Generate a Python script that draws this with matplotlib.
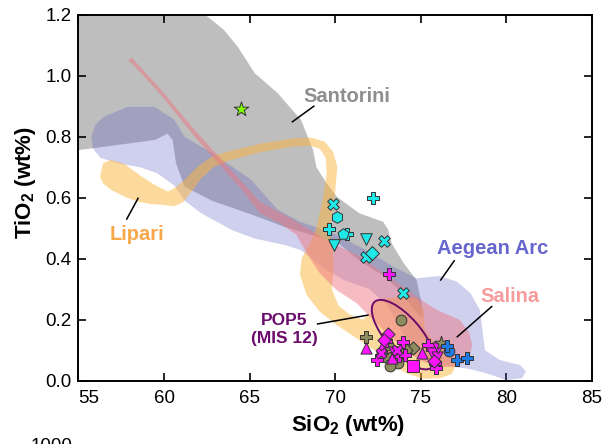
import matplotlib
matplotlib.use('Agg')
import matplotlib.pyplot as plt
from matplotlib.patches import Polygon, Ellipse
from matplotlib import transforms

plt.rcParams['font.family'] = ['Liberation Sans', 'DejaVu Sans']
plt.rcParams['mathtext.fontset'] = 'custom'
plt.rcParams['mathtext.rm'] = 'Liberation Sans'
plt.rcParams['mathtext.bf'] = 'Liberation Sans:bold'

# compositional fields, outline vertices (SiO2, TiO2)
santorini_sio2 = [55.0, 62.4, 63.5, 64.3, 65.3, 66.65, 68.0, 68.7, 68.9, 69.5, 70.1, 71.4,
                  72.8, 73.1, 73.3, 74.0, 74.75, 75.05, 75.15, 74.9, 74.3, 73.6, 72.8, 71.5,
                  70.2, 68.5, 67.0, 65.1, 62.8, 61.2, 60.7, 60.5, 60.2, 59.5, 58.9, 56.9, 55.0]
santorini_tio2 = [1.2, 1.2, 1.15, 1.095, 1.008, 0.942, 0.855, 0.757, 0.70, 0.647, 0.603, 0.549,
                  0.521, 0.494, 0.45, 0.385, 0.33, 0.254, 0.21, 0.215, 0.255, 0.305, 0.345, 0.39,
                  0.45, 0.48, 0.505, 0.545, 0.59, 0.636, 0.713, 0.789, 0.81, 0.79, 0.785, 0.77, 0.756]

aegean_sio2 = [55.75, 56.0, 56.5, 57.9, 59.45, 60.6, 61.2, 63.15, 65.1, 66.65, 67.95, 69.9,
               71.8, 73.4, 74.75, 76.1, 77.1, 77.9, 78.45, 78.6, 78.75, 79.6, 80.8, 81.15,
               80.9, 80.0, 78.85, 77.7, 76.1, 75.0, 74.0, 73.0, 72.0, 70.5, 69.3, 68.0,
               67.1, 65.3, 64.0, 62.2, 61.2, 60.6, 59.6, 58.6, 57.5, 56.3, 55.85]
aegean_tio2 = [0.80, 0.84, 0.866, 0.898, 0.898, 0.855, 0.80, 0.734, 0.658, 0.56, 0.521, 0.483,
               0.428, 0.374, 0.336, 0.343, 0.325, 0.287, 0.232, 0.166, 0.10, 0.068, 0.051, 0.03,
               0.008, 0.002, 0.024, 0.04, 0.05, 0.07, 0.15, 0.25, 0.30, 0.33, 0.37, 0.428,
               0.444, 0.466, 0.493, 0.548, 0.59, 0.64, 0.68, 0.70, 0.71, 0.73, 0.76]

salina_sio2 = [57.9, 58.1, 59.84, 61.79, 63.73, 65.6, 67.55, 69.5, 71.44, 73.39, 74.75, 75.92,
               77.28, 77.8, 78.0, 77.87, 77.4, 76.9, 76.0, 75.0, 74.0, 73.0, 72.03, 71.25,
               70.08, 69.1, 68.33, 67.74, 66.77, 65.6, 64.5, 63.73, 61.79, 59.84, 58.3]
salina_tio2 = [1.05, 1.06, 0.953, 0.822, 0.702, 0.587, 0.527, 0.461, 0.407, 0.33, 0.275, 0.232,
               0.199, 0.16, 0.12, 0.08, 0.055, 0.046, 0.045, 0.065, 0.105, 0.155, 0.21, 0.254,
               0.297, 0.352, 0.418, 0.478, 0.516, 0.549, 0.63, 0.677, 0.80, 0.935, 1.03]

lipari_sio2 = [56.26, 56.43, 56.92, 57.7, 58.57, 59.45, 60.23, 60.7, 61.2, 61.98, 62.76, 63.73,
               65.68, 67.63, 68.6, 69.38, 69.87, 70.12, 70.0, 69.85, 69.65, 69.85, 69.9, 69.8,
               70.2, 70.9, 71.6, 72.15, 72.22, 73.0, 73.78, 74.75, 75.14, 75.24, 75.92, 76.8,
               77.05, 76.8, 76.12, 75.14, 74.17, 73.2, 72.42, 71.25, 70.08, 69.1, 68.33, 67.94,
               68.04, 68.52, 68.9, 69.1, 69.35, 69.5, 69.45, 69.1, 68.6, 67.6, 65.7, 63.8,
               62.9, 62.2, 61.6, 61.1, 60.6, 60.03, 59.25, 58.48, 57.7, 56.92, 56.43]
lipari_tio2 = [0.668, 0.713, 0.724, 0.71, 0.674, 0.642, 0.62, 0.635, 0.658, 0.702, 0.734, 0.751,
               0.778, 0.795, 0.797, 0.784, 0.751, 0.702, 0.62, 0.56, 0.49, 0.43, 0.36, 0.30,
               0.245, 0.215, 0.2, 0.225, 0.259, 0.27, 0.275, 0.27, 0.237, 0.166, 0.117, 0.084,
               0.051, 0.022, 0.008, 0.006, 0.024, 0.057, 0.095, 0.139, 0.183, 0.226, 0.281, 0.347,
               0.401, 0.45, 0.50, 0.55, 0.62, 0.68, 0.73, 0.76, 0.77, 0.768, 0.75, 0.722,
               0.70, 0.665, 0.62, 0.585, 0.572, 0.576, 0.579, 0.587, 0.603, 0.625, 0.647]

# POP5 (MIS 12) field: centre in data units, axes in inches on the page
pop5_center = (73.97, 0.151)
pop5_width = 0.87
pop5_height = 0.35
pop5_angle = -49

# glass shard analyses
cyan_x_sio2, cyan_x_tio2 = [69.88, 72.84, 71.79, 73.93], [0.579, 0.458, 0.407, 0.287]
cyan_hex_sio2, cyan_hex_tio2 = [70.12], [0.538]
cyan_plus_sio2, cyan_plus_tio2 = [72.22, 69.65, 70.70], [0.598, 0.497, 0.480]
cyan_pent_sio2, cyan_pent_tio2 = [70.43], [0.481]
cyan_tri_sio2, cyan_tri_tio2 = [69.92, 71.79], [0.444, 0.465]
cyan_dia_sio2, cyan_dia_tio2 = [72.12], [0.418]
green_star_sio2, green_star_tio2 = [64.47], [0.892]

mag_plus_sio2 = [73.16, 73.97, 72.45, 75.43, 75.82, 73.75, 72.95, 74.05, 75.9]
mag_plus_tio2 = [0.349, 0.126, 0.068, 0.117, 0.057, 0.08, 0.13, 0.085, 0.04]
mag_up_sio2, mag_up_tio2 = [71.78, 75.05, 72.75, 73.3], [0.108, 0.09, 0.11, 0.075]
mag_down_sio2, mag_down_tio2 = [75.63, 75.92, 76.02, 73.45], [0.09, 0.079, 0.106, 0.095]
mag_dia_sio2, mag_dia_tio2 = [73.1, 75.75, 72.85], [0.152, 0.065, 0.135]
mag_sq_sio2, mag_sq_tio2 = [74.56], [0.048]
mag_x_sio2, mag_x_tio2 = [73.6, 72.7], [0.1, 0.09]

olive_circ_sio2 = [73.84, 73.1, 73.68, 73.2, 72.75]
olive_circ_tio2 = [0.199, 0.117, 0.057, 0.047, 0.09]
olive_plus_sio2, olive_plus_tio2 = [71.78], [0.144]
olive_dia_sio2, olive_dia_tio2 = [74.56, 74.15], [0.108, 0.1]
olive_x_sio2, olive_x_tio2 = [73.0], [0.079]
olive_star_sio2, olive_star_tio2 = [76.17], [0.123]

blue_plus_sio2, blue_plus_tio2 = [77.09, 77.67, 76.55], [0.068, 0.073, 0.115]
blue_circ_sio2, blue_circ_tio2 = [76.62], [0.098]


fig = plt.figure(figsize=(6.06, 4.44), dpi=100)
ax = fig.add_axes([0.1295, 0.1426, 0.8474, 0.8243])

# fields
ax.add_patch(Polygon(list(zip(santorini_sio2, santorini_tio2)), closed=True,
                     fc='#bebebe', ec='none', zorder=1))
ax.add_patch(Polygon(list(zip(aegean_sio2, aegean_tio2)), closed=True,
                     fc='#5656c4', ec='none', alpha=0.28, zorder=2))
ax.add_patch(Polygon(list(zip(lipari_sio2, lipari_tio2)), closed=True,
                     fc='#fbb43c', ec='none', alpha=0.5, zorder=3))
ax.add_patch(Polygon(list(zip(salina_sio2, salina_tio2)), closed=True,
                     fc='#ee7480', ec='none', alpha=0.48, zorder=3))

trans = fig.dpi_scale_trans + transforms.ScaledTranslation(pop5_center[0], pop5_center[1], ax.transData)
ax.add_patch(Ellipse((0, 0), pop5_width, pop5_height, angle=pop5_angle, transform=trans,
                     fc='none', ec='#6b0b6b', lw=1.4, zorder=4))

# points
ec = '#333333'
def pts(x, y, c, m, s=62):
    ax.scatter(x, y, c=c, marker=m, s=s, edgecolors=ec, linewidths=0.7, zorder=5)

cyan = '#1fe8e8'
mag = '#ff14ff'
olive = '#8c8c5e'
blue = '#1e7be6'

pts(cyan_x_sio2, cyan_x_tio2, cyan, 'X', 70)
pts(cyan_hex_sio2, cyan_hex_tio2, cyan, 'h', 70)
pts(cyan_plus_sio2, cyan_plus_tio2, cyan, 'P', 70)
pts(cyan_pent_sio2, cyan_pent_tio2, cyan, 'p', 70)
pts(cyan_tri_sio2, cyan_tri_tio2, cyan, 'v', 70)
pts(cyan_dia_sio2, cyan_dia_tio2, cyan, 'D', 50)
pts(green_star_sio2, green_star_tio2, '#7fff00', '*', 120)

pts(olive_circ_sio2, olive_circ_tio2, olive, 'o', 60)
pts(olive_plus_sio2, olive_plus_tio2, olive, 'P', 70)
pts(olive_dia_sio2, olive_dia_tio2, olive, 'D', 45)
pts(olive_x_sio2, olive_x_tio2, olive, 'X', 60)
pts(mag_plus_sio2, mag_plus_tio2, mag, 'P', 70)
pts(mag_up_sio2, mag_up_tio2, mag, '^', 65)
pts(mag_down_sio2, mag_down_tio2, mag, 'v', 65)
pts(mag_dia_sio2, mag_dia_tio2, mag, 'D', 45)
pts(mag_sq_sio2, mag_sq_tio2, mag, 's', 65)
pts(mag_x_sio2, mag_x_tio2, mag, 'X', 60)
pts(olive_star_sio2, olive_star_tio2, olive, '*', 110)
pts(blue_circ_sio2, blue_circ_tio2, blue, 'o', 60)
pts(blue_plus_sio2, blue_plus_tio2, blue, 'P', 70)

# field labels and leader lines
ax.text(70.68, 0.932, 'Santorini', color='#8e8e8e', fontsize=14.5, fontweight='bold',
        ha='center', va='center', zorder=6)
ax.plot([67.5, 68.75], [0.849, 0.90], color='k', lw=1.1, zorder=6)
ax.text(58.42, 0.479, 'Lipari', color='#f8a84a', fontsize=14.5, fontweight='bold',
        ha='center', va='center', zorder=6)
ax.plot([57.82, 58.48], [0.53, 0.598], color='k', lw=1.1, zorder=6)
ax.text(79.21, 0.434, 'Aegean Arc', color='#6666cc', fontsize=14.5, fontweight='bold',
        ha='center', va='center', zorder=6)
ax.plot([76.16, 76.95], [0.33, 0.393], color='k', lw=1.1, zorder=6)
ax.text(80.2, 0.275, 'Salina', color='#f79c9c', fontsize=14.5, fontweight='bold',
        ha='center', va='center', zorder=6)
ax.plot([77.13, 79.14], [0.144, 0.243], color='k', lw=1.1, zorder=6)
ax.text(67.04, 0.168, 'POP5\n(MIS 12)', color='#6b0b6b', fontsize=12.5, fontweight='bold',
        ha='center', va='center', linespacing=1.25, zorder=6)
ax.plot([68.97, 71.91], [0.186, 0.215], color='k', lw=1.1, zorder=6)

ax.set_xlim(55, 85)
ax.set_ylim(0, 1.2)
ax.set_xticks([55, 60, 65, 70, 75, 80, 85])
ax.set_yticks([0.0, 0.2, 0.4, 0.6, 0.8, 1.0, 1.2])
ax.set_yticklabels(['0.0', '0.2', '0.4', '0.6', '0.8', '1.0', '1.2'])
ax.tick_params(direction='in', top=True, right=True, length=6, width=1.2,
               labelsize=13.5, colors='k')
ax.tick_params(axis='x', pad=6.5)
ax.tick_params(axis='y', pad=5)
ax.get_xticklabels()[0].set_ha('left')
for sp in ax.spines.values():
    sp.set_linewidth(1.4)

fig.text(348 / 606, 1 - 425 / 444, 'SiO$_\\mathbf{2}$ (wt%)', fontsize=16, fontweight='bold',
         ha='center', va='center')
fig.text(25 / 606, 1 - 183 / 444, 'TiO$_\\mathbf{2}$ (wt%)', fontsize=16, fontweight='bold',
         ha='center', va='center', rotation=90)
# top of the next panel's tick label, cut by the page edge
fig.text(72 / 606, (444 - 451) / 444, '1000', fontsize=13.5, ha='right', va='baseline')

fig.savefig('out.png', dpi=100)
